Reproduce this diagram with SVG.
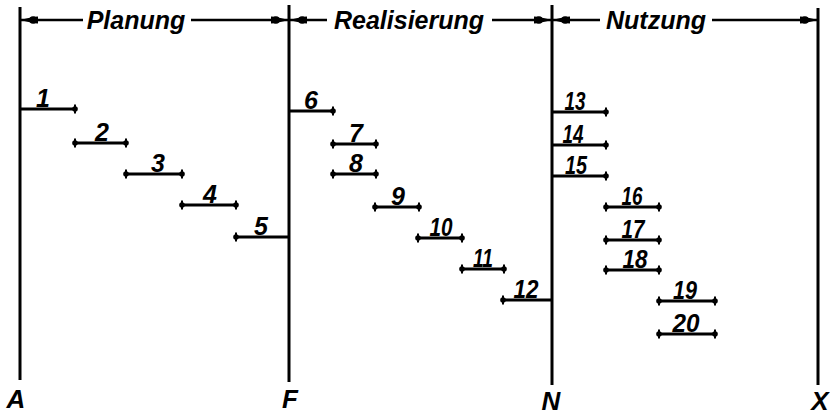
<svg xmlns="http://www.w3.org/2000/svg" width="830" height="416" viewBox="0 0 830 416">
<style>
.ln{stroke:#000;stroke-width:3;fill:none}
.bar{stroke:#000;stroke-width:3;fill:none}
.dim{stroke:#000;stroke-width:2.5;fill:none}
text{font-family:"Liberation Sans",Arial,sans-serif;font-style:italic;font-weight:bold;fill:#000}
.num{font-size:25px;text-anchor:middle}
.ph{font-size:25px;text-anchor:middle}
.pt{font-size:26px;text-anchor:middle}
</style>
<defs>
<marker id="arr" viewBox="0 0 18 12" refX="18" refY="6" markerWidth="18" markerHeight="12" markerUnits="userSpaceOnUse" orient="auto-start-reverse">
<path d="M0,2.5 L4,2.8 L18,6 L4,9.2 L0,9.5 z" fill="#000"/>
<circle cx="5" cy="6" r="3.8" fill="#000"/>
</marker>
<marker id="tick" viewBox="0 0 8 10" refX="4" refY="5" markerWidth="8" markerHeight="10" markerUnits="userSpaceOnUse" orient="auto">
<line x1="4" y1="0.5" x2="4" y2="9.5" stroke="#000" stroke-width="2"/>
<circle cx="4" cy="5" r="2.8" fill="#000"/>
</marker>
</defs>

<g id="axes">
<line class="ln" x1="20" y1="7" x2="20" y2="380"/>
<line class="ln" x1="289" y1="5" x2="289" y2="382"/>
<line class="ln" x1="552" y1="5" x2="552" y2="385"/>
<line class="ln" x1="818" y1="8" x2="818" y2="385"/>
</g>

<g id="phases">
<line class="dim" x1="83" y1="20" x2="20" y2="20" marker-end="url(#arr)"/>
<text class="ph" x="136" y="29">Planung</text>
<line class="dim" x1="191" y1="20" x2="289" y2="20" marker-end="url(#arr)"/>
<line class="dim" x1="327" y1="20" x2="289" y2="20" marker-end="url(#arr)"/>
<text class="ph" x="409" y="29">Realisierung</text>
<line class="dim" x1="492" y1="20" x2="552" y2="20" marker-end="url(#arr)"/>
<line class="dim" x1="600" y1="20" x2="552" y2="20" marker-end="url(#arr)"/>
<text class="ph" x="656" y="29">Nutzung</text>
<line class="dim" x1="712" y1="20" x2="818" y2="20" marker-end="url(#arr)"/>
</g>

<g id="points">
<text class="pt" x="16" y="408">A</text>
<text class="pt" x="290" y="408">F</text>
<text class="pt" x="551" y="410">N</text>
<text class="pt" x="820" y="410">X</text>
</g>

<g id="connectors">
<line class="bar" x1="20" y1="109" x2="75" y2="109" marker-end="url(#tick)"/>
<line class="bar" x1="75" y1="143" x2="126" y2="143" marker-start="url(#tick)" marker-end="url(#tick)"/>
<line class="bar" x1="126" y1="174" x2="182" y2="174" marker-start="url(#tick)" marker-end="url(#tick)"/>
<line class="bar" x1="182" y1="205" x2="236" y2="205" marker-start="url(#tick)" marker-end="url(#tick)"/>
<line class="bar" x1="236" y1="237" x2="289" y2="237" marker-start="url(#tick)"/>
<line class="bar" x1="289" y1="111" x2="333" y2="111" marker-end="url(#tick)"/>
<line class="bar" x1="333" y1="144" x2="376" y2="144" marker-start="url(#tick)" marker-end="url(#tick)"/>
<line class="bar" x1="333" y1="174" x2="376" y2="174" marker-start="url(#tick)" marker-end="url(#tick)"/>
<line class="bar" x1="375" y1="207" x2="419" y2="207" marker-start="url(#tick)" marker-end="url(#tick)"/>
<line class="bar" x1="418" y1="238" x2="462" y2="238" marker-start="url(#tick)" marker-end="url(#tick)"/>
<line class="bar" x1="462" y1="269" x2="504" y2="269" marker-start="url(#tick)" marker-end="url(#tick)"/>
<line class="bar" x1="503" y1="300" x2="552" y2="300" marker-start="url(#tick)"/>
<line class="bar" x1="552" y1="112" x2="606" y2="112" marker-end="url(#tick)"/>
<line class="bar" x1="552" y1="145" x2="606" y2="145" marker-end="url(#tick)"/>
<line class="bar" x1="552" y1="176" x2="606" y2="176" marker-end="url(#tick)"/>
<line class="bar" x1="606" y1="207" x2="659" y2="207" marker-start="url(#tick)" marker-end="url(#tick)"/>
<line class="bar" x1="606" y1="240" x2="659" y2="240" marker-start="url(#tick)" marker-end="url(#tick)"/>
<line class="bar" x1="606" y1="270" x2="659" y2="270" marker-start="url(#tick)" marker-end="url(#tick)"/>
<line class="bar" x1="659" y1="301" x2="715" y2="301" marker-start="url(#tick)" marker-end="url(#tick)"/>
<line class="bar" x1="659" y1="334" x2="715" y2="334" marker-start="url(#tick)" marker-end="url(#tick)"/>
</g>

<g id="n1"><text class="num" x="43" y="107">1</text></g>
<g id="n2"><text class="num" x="102" y="141">2</text></g>
<g id="n3"><text class="num" x="158" y="172">3</text></g>
<g id="n4"><text class="num" x="210" y="203">4</text></g>
<g id="n5"><text class="num" x="261" y="235">5</text></g>
<g id="n6"><text class="num" x="311" y="109">6</text></g>
<g id="n7"><text class="num" x="356" y="142">7</text></g>
<g id="n8"><text class="num" x="356" y="172">8</text></g>
<g id="n9"><text class="num" x="398" y="205">9</text></g>
<g id="n10"><text class="num" x="441" y="236" textLength="23" lengthAdjust="spacingAndGlyphs">10</text></g>
<g id="n11"><text class="num" x="483" y="267" textLength="20" lengthAdjust="spacingAndGlyphs">11</text></g>
<g id="n12"><text class="num" x="526" y="298" textLength="25" lengthAdjust="spacingAndGlyphs">12</text></g>
<g id="n13"><text class="num" x="575" y="110" textLength="21" lengthAdjust="spacingAndGlyphs">13</text></g>
<g id="n14"><text class="num" x="573" y="143" textLength="21" lengthAdjust="spacingAndGlyphs">14</text></g>
<g id="n15"><text class="num" x="576" y="174" textLength="22" lengthAdjust="spacingAndGlyphs">15</text></g>
<g id="n16"><text class="num" x="632" y="205" textLength="21" lengthAdjust="spacingAndGlyphs">16</text></g>
<g id="n17"><text class="num" x="633" y="238" textLength="23" lengthAdjust="spacingAndGlyphs">17</text></g>
<g id="n18"><text class="num" x="635" y="268" textLength="25" lengthAdjust="spacingAndGlyphs">18</text></g>
<g id="n19"><text class="num" x="685" y="299" textLength="24" lengthAdjust="spacingAndGlyphs">19</text></g>
<g id="n20"><text class="num" x="686" y="332" textLength="27" lengthAdjust="spacingAndGlyphs">20</text></g>
</svg>
